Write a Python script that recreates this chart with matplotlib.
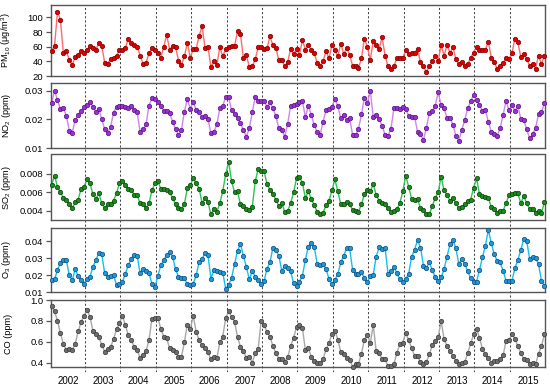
import numpy as np
import matplotlib
matplotlib.use("Agg")
import matplotlib.pyplot as plt
from matplotlib.ticker import FormatStrFormatter

plt.rcParams['font.family'] = ['Liberation Sans', 'DejaVu Sans']
plt.rcParams['mathtext.fontset'] = 'custom'
plt.rcParams['mathtext.rm'] = 'Liberation Sans'

# Monthly means, Jan 2002 - Dec 2015 (one row per year)
years = [str(y) for y in range(2002, 2016)]

pm10 = [
    54, 61, 108, 96, 51, 54, 42, 35, 46, 49, 54, 51,
    56, 61, 58, 56, 65, 61, 38, 37, 43, 45, 47, 56,
    56, 58, 71, 65, 63, 60, 48, 37, 38, 51, 58, 55,
    52, 45, 60, 76, 56, 61, 60, 41, 35, 47, 65, 45,
    57, 57, 75, 88, 58, 60, 32, 40, 35, 59, 47, 57,
    60, 61, 61, 81, 77, 44, 49, 32, 33, 43, 59, 60,
    57, 58, 74, 62, 58, 42, 42, 33, 39, 57, 50, 57,
    49, 69, 56, 62, 56, 51, 38, 34, 40, 54, 44, 62,
    55, 47, 64, 50, 58, 49, 34, 34, 31, 44, 71, 60,
    42, 68, 62, 57, 73, 48, 33, 30, 33, 45, 44, 45,
    55, 50, 51, 52, 57, 39, 33, 26, 33, 40, 48, 41,
    62, 48, 62, 52, 59, 43, 36, 39, 33, 36, 45, 52,
    60, 55, 56, 56, 67, 45, 39, 30, 34, 38, 44, 43,
    51, 71, 66, 46, 50, 43, 34, 36, 30, 48, 36, 48,
]

no2 = [
    0.0257, 0.0301, 0.0268, 0.0237, 0.0242, 0.0212, 0.0161, 0.0154, 0.0198, 0.0216, 0.0230, 0.0243,
    0.0251, 0.0263, 0.0245, 0.0227, 0.0237, 0.0201, 0.0165, 0.0151, 0.0175, 0.0224, 0.0245, 0.0246,
    0.0246, 0.0244, 0.0242, 0.0246, 0.0233, 0.0225, 0.0157, 0.0165, 0.0183, 0.0249, 0.0274, 0.0271,
    0.0263, 0.0247, 0.0231, 0.0231, 0.0222, 0.0192, 0.0165, 0.0146, 0.0163, 0.0227, 0.0272, 0.0237,
    0.0263, 0.0233, 0.0227, 0.0208, 0.0211, 0.0201, 0.0151, 0.0155, 0.0184, 0.0239, 0.0247, 0.0280,
    0.0278, 0.0233, 0.0219, 0.0204, 0.0187, 0.0163, 0.0140, 0.0169, 0.0225, 0.0280, 0.0266, 0.0266,
    0.0266, 0.0245, 0.0260, 0.0239, 0.0212, 0.0169, 0.0163, 0.0140, 0.0184, 0.0249, 0.0251, 0.0253,
    0.0263, 0.0265, 0.0208, 0.0249, 0.0216, 0.0181, 0.0155, 0.0146, 0.0192, 0.0233, 0.0236, 0.0245,
    0.0272, 0.0247, 0.0204, 0.0216, 0.0198, 0.0204, 0.0146, 0.0146, 0.0167, 0.0218, 0.0277, 0.0257,
    0.0300, 0.0208, 0.0216, 0.0201, 0.0178, 0.0146, 0.0143, 0.0167, 0.0239, 0.0239, 0.0237, 0.0245,
    0.0237, 0.0212, 0.0210, 0.0210, 0.0157, 0.0148, 0.0128, 0.0171, 0.0222, 0.0230, 0.0249, 0.0295,
    0.0251, 0.0239, 0.0206, 0.0206, 0.0181, 0.0143, 0.0126, 0.0163, 0.0198, 0.0239, 0.0265, 0.0286,
    0.0268, 0.0251, 0.0230, 0.0233, 0.0192, 0.0157, 0.0149, 0.0143, 0.0169, 0.0216, 0.0265, 0.0233,
    0.0251, 0.0230, 0.0249, 0.0202, 0.0198, 0.0165, 0.0134, 0.0148, 0.0169, 0.0218, 0.0225, 0.0257,
]

so2 = [
    0.0068, 0.0078, 0.0066, 0.0060, 0.0054, 0.0052, 0.0047, 0.0043, 0.0049, 0.0052, 0.0064, 0.0066,
    0.0074, 0.0070, 0.0058, 0.0053, 0.0059, 0.0048, 0.0043, 0.0047, 0.0047, 0.0051, 0.0059, 0.0070,
    0.0072, 0.0068, 0.0064, 0.0063, 0.0057, 0.0057, 0.0048, 0.0047, 0.0043, 0.0048, 0.0062, 0.0070,
    0.0072, 0.0064, 0.0064, 0.0063, 0.0060, 0.0054, 0.0047, 0.0043, 0.0042, 0.0047, 0.0065, 0.0068,
    0.0075, 0.0070, 0.0064, 0.0048, 0.0054, 0.0049, 0.0036, 0.0042, 0.0039, 0.0048, 0.0061, 0.0080,
    0.0093, 0.0072, 0.0060, 0.0061, 0.0047, 0.0045, 0.0042, 0.0041, 0.0044, 0.0072, 0.0085, 0.0083,
    0.0083, 0.0069, 0.0063, 0.0058, 0.0052, 0.0045, 0.0048, 0.0039, 0.0040, 0.0048, 0.0060, 0.0075,
    0.0077, 0.0070, 0.0054, 0.0061, 0.0053, 0.0046, 0.0039, 0.0036, 0.0038, 0.0046, 0.0051, 0.0062,
    0.0074, 0.0061, 0.0047, 0.0047, 0.0049, 0.0047, 0.0041, 0.0040, 0.0039, 0.0047, 0.0058, 0.0063,
    0.0061, 0.0069, 0.0057, 0.0051, 0.0048, 0.0047, 0.0043, 0.0039, 0.0040, 0.0042, 0.0048, 0.0061,
    0.0078, 0.0066, 0.0053, 0.0052, 0.0053, 0.0043, 0.0041, 0.0036, 0.0036, 0.0045, 0.0054, 0.0060,
    0.0077, 0.0062, 0.0057, 0.0051, 0.0054, 0.0048, 0.0043, 0.0044, 0.0047, 0.0051, 0.0052, 0.0065,
    0.0075, 0.0058, 0.0056, 0.0055, 0.0054, 0.0044, 0.0042, 0.0038, 0.0040, 0.0040, 0.0048, 0.0057,
    0.0058, 0.0059, 0.0059, 0.0048, 0.0056, 0.0048, 0.0042, 0.0042, 0.0038, 0.0040, 0.0038, 0.0049,
]

o3 = [
    0.0171, 0.0175, 0.0231, 0.0274, 0.0288, 0.0290, 0.0199, 0.0171, 0.0235, 0.0195, 0.0171, 0.0150,
    0.0179, 0.0191, 0.0249, 0.0288, 0.0330, 0.0324, 0.0211, 0.0191, 0.0195, 0.0201, 0.0142, 0.0151,
    0.0161, 0.0209, 0.0258, 0.0298, 0.0320, 0.0314, 0.0211, 0.0235, 0.0225, 0.0211, 0.0151, 0.0132,
    0.0195, 0.0258, 0.0288, 0.0320, 0.0335, 0.0310, 0.0235, 0.0191, 0.0185, 0.0181, 0.0146, 0.0142,
    0.0150, 0.0199, 0.0280, 0.0294, 0.0333, 0.0318, 0.0179, 0.0231, 0.0225, 0.0221, 0.0215, 0.0120,
    0.0142, 0.0185, 0.0264, 0.0344, 0.0384, 0.0314, 0.0249, 0.0175, 0.0225, 0.0191, 0.0171, 0.0150,
    0.0165, 0.0239, 0.0275, 0.0363, 0.0349, 0.0316, 0.0225, 0.0255, 0.0241, 0.0222, 0.0153, 0.0137,
    0.0163, 0.0198, 0.0290, 0.0369, 0.0388, 0.0369, 0.0267, 0.0261, 0.0267, 0.0237, 0.0178, 0.0149,
    0.0173, 0.0206, 0.0276, 0.0314, 0.0363, 0.0359, 0.0231, 0.0206, 0.0206, 0.0218, 0.0182, 0.0159,
    0.0198, 0.0202, 0.0310, 0.0365, 0.0353, 0.0363, 0.0208, 0.0222, 0.0251, 0.0212, 0.0176, 0.0159,
    0.0178, 0.0208, 0.0310, 0.0349, 0.0408, 0.0363, 0.0257, 0.0245, 0.0275, 0.0231, 0.0188, 0.0167,
    0.0188, 0.0235, 0.0310, 0.0382, 0.0408, 0.0359, 0.0265, 0.0294, 0.0265, 0.0225, 0.0182, 0.0163,
    0.0163, 0.0231, 0.0306, 0.0373, 0.0467, 0.0388, 0.0324, 0.0284, 0.0276, 0.0227, 0.0167, 0.0167,
    0.0167, 0.0241, 0.0290, 0.0349, 0.0414, 0.0402, 0.0296, 0.0306, 0.0300, 0.0265, 0.0167, 0.0139,
]

co = [
    0.94, 0.89, 0.80, 0.68, 0.58, 0.52, 0.53, 0.52, 0.58, 0.70, 0.79, 0.85,
    0.905, 0.84, 0.705, 0.673, 0.648, 0.568, 0.505, 0.530, 0.552, 0.625, 0.721, 0.78,
    0.85, 0.759, 0.663, 0.616, 0.552, 0.521, 0.448, 0.473, 0.511, 0.616, 0.82, 0.83,
    0.83, 0.727, 0.648, 0.632, 0.537, 0.521, 0.498, 0.457, 0.457, 0.594, 0.765, 0.721,
    0.85, 0.695, 0.616, 0.568, 0.537, 0.498, 0.432, 0.451, 0.441, 0.594, 0.648, 0.83,
    0.89, 0.84, 0.79, 0.648, 0.552, 0.511, 0.448, 0.457, 0.40, 0.489, 0.530, 0.80,
    0.759, 0.695, 0.648, 0.559, 0.495, 0.438, 0.432, 0.410, 0.454, 0.559, 0.638, 0.740,
    0.765, 0.733, 0.521, 0.543, 0.457, 0.416, 0.400, 0.400, 0.432, 0.527, 0.590, 0.676,
    0.708, 0.622, 0.502, 0.479, 0.448, 0.425, 0.362, 0.384, 0.390, 0.486, 0.622, 0.663,
    0.590, 0.759, 0.511, 0.489, 0.438, 0.432, 0.368, 0.368, 0.384, 0.495, 0.575, 0.590,
    0.686, 0.613, 0.543, 0.463, 0.463, 0.406, 0.390, 0.406, 0.479, 0.565, 0.606, 0.648,
    0.797, 0.629, 0.559, 0.511, 0.463, 0.416, 0.384, 0.400, 0.406, 0.489, 0.584, 0.670,
    0.727, 0.638, 0.533, 0.479, 0.448, 0.400, 0.416, 0.416, 0.432, 0.470, 0.606, 0.613,
    0.676, 0.629, 0.559, 0.495, 0.432, 0.425, 0.384, 0.400, 0.384, 0.486, 0.559, 0.670,
]

months = np.arange(len(pm10))

# panel: (data, label, ylim, ticks, fmt, marker face, marker edge, line colour, pixel top/bottom)
panels = [
    (pm10, 'PM$_{10}$ (μg/m$^3$)', (20, 117), [20, 40, 60, 80, 100], '%d',
     '#e00000', '#7a0000', '#ff6b6b', 5, 76),
    (no2, 'NO$_2$ (ppm)', (0.01, 0.0328), [0.01, 0.02, 0.03], '%.2f',
     '#9a30d8', '#55157a', '#cf85f0', 83, 148),
    (so2, 'SO$_2$ (ppm)', (0.0030, 0.0101), [0.004, 0.006, 0.008], '%.3f',
     '#1c8a1c', '#0a440a', '#2ec455', 154.5, 220),
    (o3, 'O$_3$ (ppm)', (0.01, 0.048), [0.01, 0.02, 0.03, 0.04], '%.2f',
     '#2196d8', '#0f4c7a', '#14c0f0', 227.7, 292.2),
    (co, 'CO (ppm)', (0.356, 1.0), [0.4, 0.6, 0.8, 1.0], '%.1f',
     '#6e6e6e', '#3a3a3a', '#a8a8a8', 300, 367.3),
]

W, H = 550, 387
fig = plt.figure(figsize=(W / 100, H / 100), dpi=100)
left, right = 51 / W, 545 / W
xlim = (-0.2, 167.2)
frame = '#555555'

# dashed year separators running through all panels
ov = fig.add_axes([left, 1 - 372 / H, right - left, (372 - 5) / H], zorder=0)
ov.set_xlim(xlim)
ov.axis('off')
for k in range(len(years) - 1):
    ov.axvline(11.3 + 12 * k, color='#444444', lw=0.75, ls=(0, (2, 2)))

for i, (vals, lab, yl, ticks, fmt, fc, ec, lc, top, bot) in enumerate(panels):
    ax = fig.add_axes([left, 1 - bot / H, right - left, (bot - top) / H], zorder=1)
    ax.set_facecolor('none')
    ax.plot(months, vals, '-', color=lc, lw=1.0, zorder=2)
    ax.plot(months, vals, 'o', ms=3.2, mfc=fc, mec=ec, mew=0.5, zorder=3, clip_on=False)
    ax.set_xlim(xlim)
    ax.set_ylim(yl)
    ax.set_yticks(ticks)
    ax.yaxis.set_major_formatter(FormatStrFormatter(fmt))
    ax.set_ylabel(lab, fontsize=6.6)
    ax.yaxis.set_label_coords(-0.076, 0.5)
    ax.tick_params(axis='y', direction='out', length=3.5, width=0.9, colors=frame,
                   labelcolor='black', labelsize=6.8, pad=2)
    for s in ax.spines.values():
        s.set_color(frame)
        s.set_linewidth(1.0)
    if i < len(panels) - 1:
        ax.set_xticks([])
    else:
        ax.set_xticks([5.5 + 12 * k for k in range(len(years))])
        ax.set_xticklabels(years, fontsize=7)
        ax.tick_params(axis='x', length=0, pad=6)

fig.savefig('out.png', dpi=100)
